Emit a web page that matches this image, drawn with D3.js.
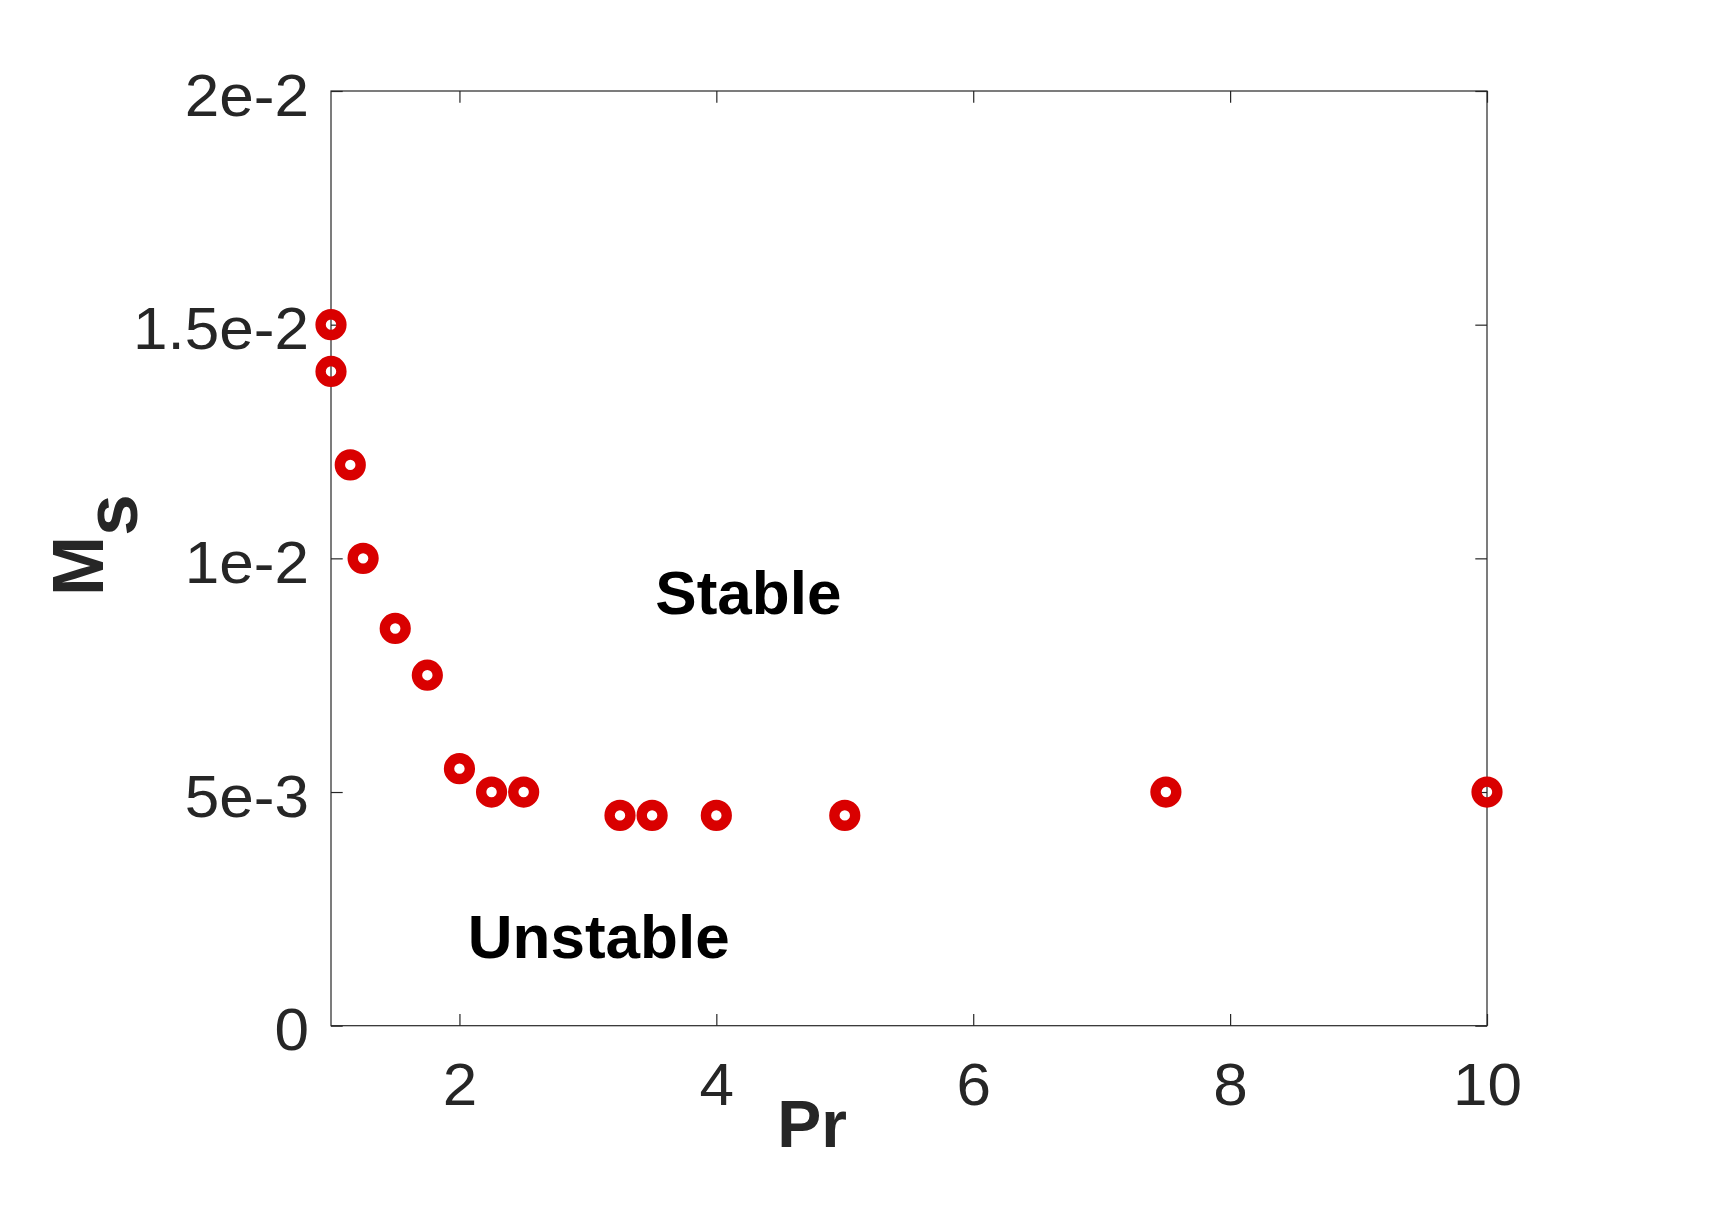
<!DOCTYPE html>
<html>
<head>
<meta charset="utf-8">
<script src="https://cdn.jsdelivr.net/npm/d3@7"></script>
<style>
  html, body { margin: 0; padding: 0; background: #fff; }
  svg { display: block; }
</style>
</head>
<body>
<svg id="chart" width="1735" height="1218"></svg>
<script>
// ---- data ----
const prValues = [1, 1, 1.15, 1.25, 1.5, 1.75, 2, 2.25, 2.5, 3.25, 3.5, 4, 5, 7.5, 10];
const msValues = [0.015, 0.014, 0.012, 0.010, 0.0085, 0.0075, 0.0055, 0.005, 0.005, 0.0045, 0.0045, 0.0045, 0.0045, 0.005, 0.005];
const xTicks = [2, 4, 6, 8, 10];
const yTicks = [0, 0.005, 0.01, 0.015, 0.02];
const yTickLabels = ["0", "5e-3", "1e-2", "1.5e-2", "2e-2"];
const annotationTexts = ["Stable", "Unstable"];
const annotationX = [3.525, 2.065];
const annotationY = [0.0088, 0.00145];

// ---- layout ----
const plotLeft = 331, plotRight = 1487, plotTop = 91, plotBottom = 1025.7;
const axisColor = "#262626";
const red = "#d90000";
const font = "'Liberation Sans', Arial, Helvetica, sans-serif";
const tickLen = 11.7;
const stretch = 1.035;

const svg = d3.select("#chart");

const x = d3.scaleLinear().domain([1, 10]).range([plotLeft, plotRight]);
const y = d3.scaleLinear().domain([0, 0.02]).range([plotBottom, plotTop]);

// box
svg.append("rect")
  .attr("x", plotLeft).attr("y", plotTop)
  .attr("width", plotRight - plotLeft).attr("height", plotBottom - plotTop)
  .attr("fill", "none").attr("stroke", axisColor).attr("stroke-width", 1.2);

function styleAxis(g, showText) {
  g.select(".domain").remove();
  g.selectAll(".tick line").attr("stroke", axisColor).attr("stroke-width", 1.2);
  g.selectAll(".tick text")
    .attr("fill", axisColor)
    .style("font-family", font)
    .style("font-size", "60px");
  if (!showText) g.selectAll(".tick text").remove();
}

// bottom axis
svg.append("g")
  .attr("transform", `translate(0,${plotBottom})`)
  .call(d3.axisBottom(x).tickValues(xTicks).tickFormat(d3.format("d"))
    .tickSizeInner(-tickLen).tickSizeOuter(0).tickPadding(36.5))
  .call(g => styleAxis(g, true))
  .call(g => g.selectAll(".tick text").attr("transform", `scale(${stretch},1)`));

// top axis (ticks only)
svg.append("g")
  .attr("transform", `translate(0,${plotTop})`)
  .call(d3.axisTop(x).tickValues(xTicks).tickSizeInner(-tickLen).tickSizeOuter(0))
  .call(g => styleAxis(g, false));

// left axis
svg.append("g")
  .attr("transform", `translate(${plotLeft},0)`)
  .call(d3.axisLeft(y).tickValues(yTicks).tickFormat((d, i) => yTickLabels[i])
    .tickSizeInner(-tickLen).tickSizeOuter(0).tickPadding(22))
  .call(g => styleAxis(g, true))
  .call(g => g.selectAll(".tick text")
    .attr("x", 0).attr("dy", 24)
    .attr("transform", `translate(-22,0) scale(${stretch},1)`));

// right axis (ticks only)
svg.append("g")
  .attr("transform", `translate(${plotRight},0)`)
  .call(d3.axisRight(y).tickValues(yTicks).tickSizeInner(-tickLen).tickSizeOuter(0))
  .call(g => styleAxis(g, false));

// markers
const pts = prValues.map((p, i) => ({ p, m: msValues[i] }));
svg.append("g").selectAll("circle")
  .data(pts)
  .join("circle")
  .attr("cx", d => x(d.p))
  .attr("cy", d => y(d.m))
  .attr("r", 10.4)
  .attr("fill", "none")
  .attr("stroke", red)
  .attr("stroke-width", 10.4);

// annotations
svg.append("g").selectAll("text")
  .data(annotationTexts)
  .join("text")
  .attr("x", (d, i) => x(annotationX[i]))
  .attr("y", (d, i) => y(annotationY[i]))
  .attr("fill", "#000")
  .style("font-family", font)
  .style("font-weight", "bold")
  .style("font-size", "62px")
  .text(d => d);

// x label
svg.append("text")
  .attr("x", 812).attr("y", 1147)
  .attr("text-anchor", "middle")
  .attr("fill", axisColor)
  .style("font-family", font)
  .style("font-weight", "bold")
  .style("font-size", "66px")
  .text("Pr");

// y label M_s
const yl = svg.append("text")
  .attr("transform", "translate(102.7,596) rotate(-90)")
  .attr("fill", axisColor)
  .style("font-family", font)
  .style("font-weight", "bold")
  .style("font-size", "72px");
yl.append("tspan").text("M");
yl.append("tspan").attr("dy", 34).style("font-size", "75px").text("s");
</script>
</body>
</html>
